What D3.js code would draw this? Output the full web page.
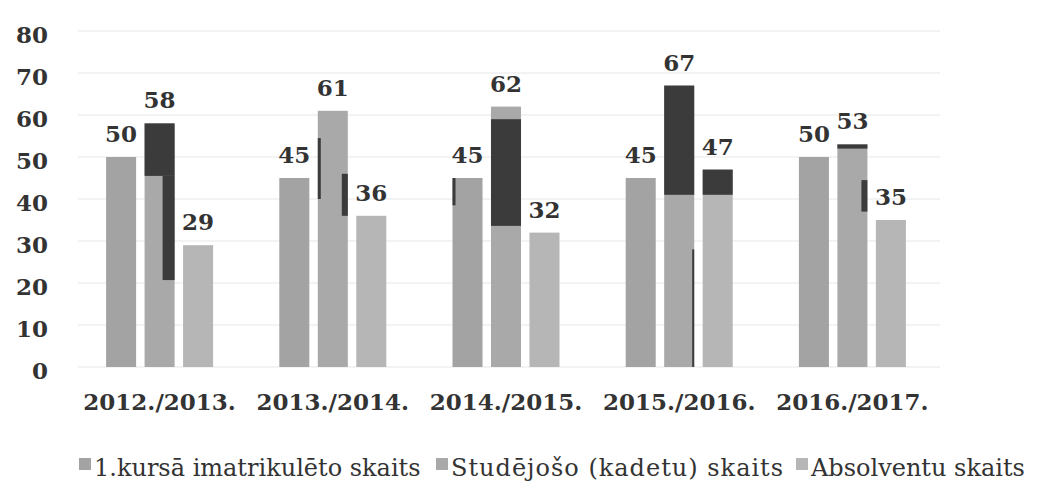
<!DOCTYPE html>
<html>
<head>
<meta charset="utf-8">
<script src="https://cdn.jsdelivr.net/npm/d3@7"></script>
<style>
  body { margin: 0; background: #fff; }
  text { font-family: "DejaVu Serif", Georgia, serif; fill: #333; }
  .num { font-weight: bold; font-size: 23px; }
  .legend text { font-size: 24px; }
</style>
</head>
<body>
<svg id="chart" width="1045" height="503"></svg>
<script>
// data
var years = ["2012./2013.", "2013./2014.", "2014./2015.", "2015./2016.", "2016./2017."];
var seriesNames = ["1.kursā imatrikulēto skaits", "Studējošo (kadetu) skaits", "Absolventu skaits"];
var matriculated = [50, 45, 45, 45, 50];
var students = [58, 61, 62, 67, 53];
var graduates = [29, 36, 32, 47, 35];
var yTicks = [0, 10, 20, 30, 40, 50, 60, 70, 80];

// dark marker blots from the scan: [year, series, part, from, to]
var scanMarks = [
  [0, 1, "full", 58, 45.5],
  [0, 1, "right", 45.5, 20.7],
  [1, 1, "edgeL", 54.5, 40],
  [1, 1, "edgeR", 46, 36],
  [2, 0, "edgeL", 45, 38.5],
  [2, 1, "full", 59, 33.6],
  [3, 1, "full", 67, 41],
  [3, 1, "lineR", 28, 0],
  [3, 2, "full", 47, 41],
  [4, 1, "full", 53, 52],
  [4, 1, "edgeR", 44.5, 37]
];

var svg = d3.select("#chart");
var colors = ["#a3a3a3", "#a9a9a9", "#b6b6b6"];
var dark = "#3b3b3b";

var rows = years.map(function(y, i) {
  return { year: y, values: [matriculated[i], students[i], graduates[i]] };
});

var y = d3.scaleLinear().domain([0, 80]).range([367, 31]);

var x0 = d3.scaleBand().domain(years).range([73, 939]);
var groupW = 107;
var x1 = d3.scaleBand().domain([0, 1, 2]).range([0, groupW]).paddingInner(0.22);
function barX(yi, si) {
  return x0(years[yi]) + (x0.bandwidth() - groupW) / 2 + x1(si);
}

// faint gridlines
svg.append("g")
  .selectAll("line")
  .data(yTicks)
  .enter().append("line")
    .attr("x1", 78).attr("x2", 940)
    .attr("y1", function(d) { return y(d); })
    .attr("y2", function(d) { return y(d); })
    .attr("stroke", "#efefef")
    .attr("stroke-width", 1.5);

// y labels
var yAxis = svg.append("g")
  .attr("transform", "translate(56,4)")
  .call(d3.axisLeft(y).tickValues(yTicks).tickSize(0).tickPadding(8));
yAxis.select(".domain").remove();
yAxis.selectAll("text")
  .attr("class", "num")
  .attr("font-family", null)
  .attr("font-size", null)
  .attr("fill", "#333");

// bars
var groups = svg.selectAll(".grp")
  .data(rows)
  .enter().append("g")
    .attr("class", "grp");

groups.selectAll("rect")
  .data(function(d, i) { return d.values.map(function(v, s) { return { yi: i, s: s, v: v }; }); })
  .enter().append("rect")
    .attr("x", function(d) { return barX(d.yi, d.s); })
    .attr("y", function(d) { return y(d.v); })
    .attr("width", x1.bandwidth())
    .attr("height", function(d) { return y(0) - y(d.v); })
    .attr("fill", function(d) { return colors[d.s]; });

// scan blots
var bw = x1.bandwidth();
var partX = {
  full:  function(x) { return [x, bw]; },
  right: function(x) { return [x + bw * 0.6, bw * 0.4]; },
  edgeL: function(x) { return [x, 3]; },
  edgeR: function(x) { return [x + bw - 6, 6]; },
  lineR: function(x) { return [x + bw - 2, 2]; }
};
svg.append("g")
  .selectAll("rect")
  .data(scanMarks)
  .enter().append("rect")
    .attr("x", function(d) { return partX[d[2]](barX(d[0], d[1]))[0]; })
    .attr("width", function(d) { return partX[d[2]](barX(d[0], d[1]))[1]; })
    .attr("y", function(d) { return y(d[3]); })
    .attr("height", function(d) { return y(d[4]) - y(d[3]); })
    .attr("fill", dark);

// value labels
groups.selectAll("text")
  .data(function(d, i) { return d.values.map(function(v, s) { return { yi: i, s: s, v: v }; }); })
  .enter().append("text")
    .attr("class", "num")
    .attr("text-anchor", "middle")
    .attr("x", function(d) { return barX(d.yi, d.s) + bw / 2; })
    .attr("y", function(d) { return y(d.v) - 15; })
    .text(function(d) { return d.v; });

// x labels
svg.append("g")
  .selectAll("text")
  .data(years)
  .enter().append("text")
    .attr("class", "num")
    .attr("text-anchor", "middle")
    .attr("x", function(d) { return x0(d) + x0.bandwidth() / 2; })
    .attr("y", 410)
    .text(function(d) { return d; });

// legend
var legendX = [79, 436, 796];
var legend = svg.append("g").attr("class", "legend");
var items = legend.selectAll("g")
  .data(seriesNames)
  .enter().append("g")
    .attr("transform", function(d, i) { return "translate(" + legendX[i] + ",0)"; });
items.append("rect")
  .attr("y", 458).attr("width", 12).attr("height", 12)
  .attr("fill", function(d, i) { return colors[i]; });
items.append("text")
  .attr("x", 15)
  .attr("y", 476)
  .attr("letter-spacing", function(d, i) { return i === 1 ? 1 : 0; })
  .text(function(d) { return d; });
</script>
</body>
</html>
